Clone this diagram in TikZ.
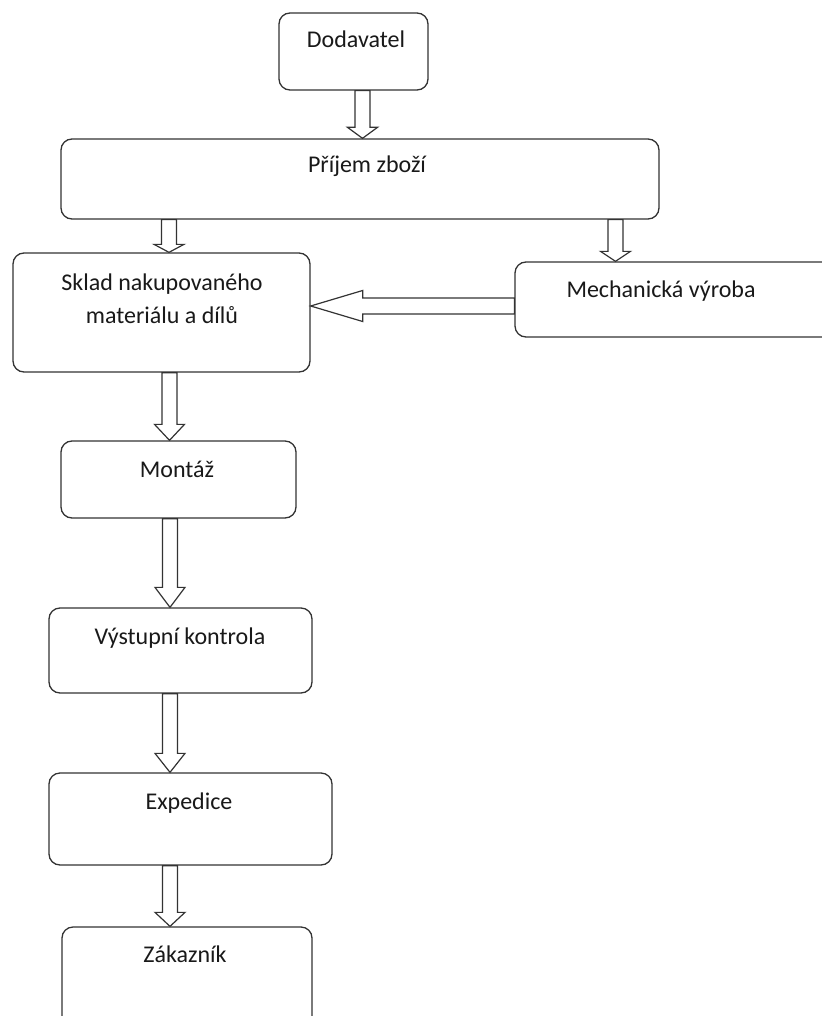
\documentclass[tikz,border=0pt]{standalone}
\usepackage{fontspec}
\setmainfont{Carlito}
\usetikzlibrary{calc}

% hollow block arrow pointing down from the bottom of #1 to the top of #2,
% centred on x=#3, with a head #4 long
\newcommand\blkdown[4]{%
  \draw[blkarrow] let \p1=(#1.south), \p2=(#2.north) in
    (#3pt-7.5pt,\y1) -- (#3pt+7.5pt,\y1) -- (#3pt+7.5pt,\y2+#4pt)
    -- (#3pt+15pt,\y2+#4pt) -- (#3pt,\y2) -- (#3pt-15pt,\y2+#4pt)
    -- (#3pt-7.5pt,\y2+#4pt) -- cycle;}
% hollow block arrow pointing left from the west side of #1 to the east side of #2
\newcommand\blkleft[4]{%
  \draw[blkarrow] let \p1=(#1.west), \p2=(#2.east) in
    (\x1,#3pt+8pt) -- (\x2+#4pt,#3pt+8pt) -- (\x2+#4pt,#3pt+15.5pt)
    -- (\x2,#3pt) -- (\x2+#4pt,#3pt-15.5pt) -- (\x2+#4pt,#3pt-8pt)
    -- (\x1,#3pt-8pt) -- cycle;}

\tikzset{
  box/.style={draw=black!80, line width=1.3pt, rounded corners=11pt,
    fill=white, inner sep=0pt},
  blkarrow/.style={draw=black!80, line width=1.2pt, fill=white, line join=miter},
  lbl/.style={font=\fontsize{24}{33}\selectfont, text=black!90, anchor=base,
    inner sep=0pt, align=center}
}

\begin{document}
\begin{tikzpicture}[x=1pt,y=1pt]
\useasboundingbox (0,0) rectangle (821,-1016);

% boxes
\node[box, minimum width=149pt, minimum height=77pt] (dod) at (353.5,-51.5) {};
\node[box, minimum width=598pt, minimum height=80pt] (prijem) at (360,-179) {};
\node[box, minimum width=297pt, minimum height=119pt] (sklad) at (161.5,-312.5) {};
\node[box, minimum width=320pt, minimum height=75pt] (mech) at (675,-299.5) {};
\node[box, minimum width=235pt, minimum height=77pt] (montaz) at (178.5,-479.5) {};
\node[box, minimum width=263pt, minimum height=85pt] (vystup) at (180.5,-650.5) {};
\node[box, minimum width=283pt, minimum height=92pt] (exped) at (190.5,-819) {};
\node[box, minimum width=250pt, minimum height=103pt] (zakaz) at (187,-978.5) {};

% labels
\node[lbl] (t-dod) at (356,-48) {Dodavatel};
\node[lbl] (t-prijem) at (367,-173) {Příjem zboží};
\node[lbl] (t-sklad1) at (162,-290) {Sklad nakupovaného};
\node[lbl] (t-sklad2) at (162,-323) {materiálu a dílů};
\node[lbl] (t-mech) at (661,-297) {Mechanická výroba};
\node[lbl] (t-montaz) at (177,-477) {Montáž};
\node[lbl] (t-vystup) at (180,-644) {Výstupní kontrola};
\node[lbl] (t-exped) at (189,-809) {Expedice};
\node[lbl] (t-zakaz) at (185,-962) {Zákazník};

% flow arrows
\blkdown{dod}{prijem}{362.5}{11}
\blkdown{prijem}{sklad}{169}{8}
\blkdown{prijem}{mech}{615.5}{10}
\blkleft{mech}{sklad}{-306}{52}
\blkdown{sklad}{montaz}{169.5}{16}
\blkdown{montaz}{vystup}{170}{20}
\blkdown{vystup}{exped}{170}{19}
\blkdown{exped}{zakaz}{170}{14}
\end{tikzpicture}
\end{document}
